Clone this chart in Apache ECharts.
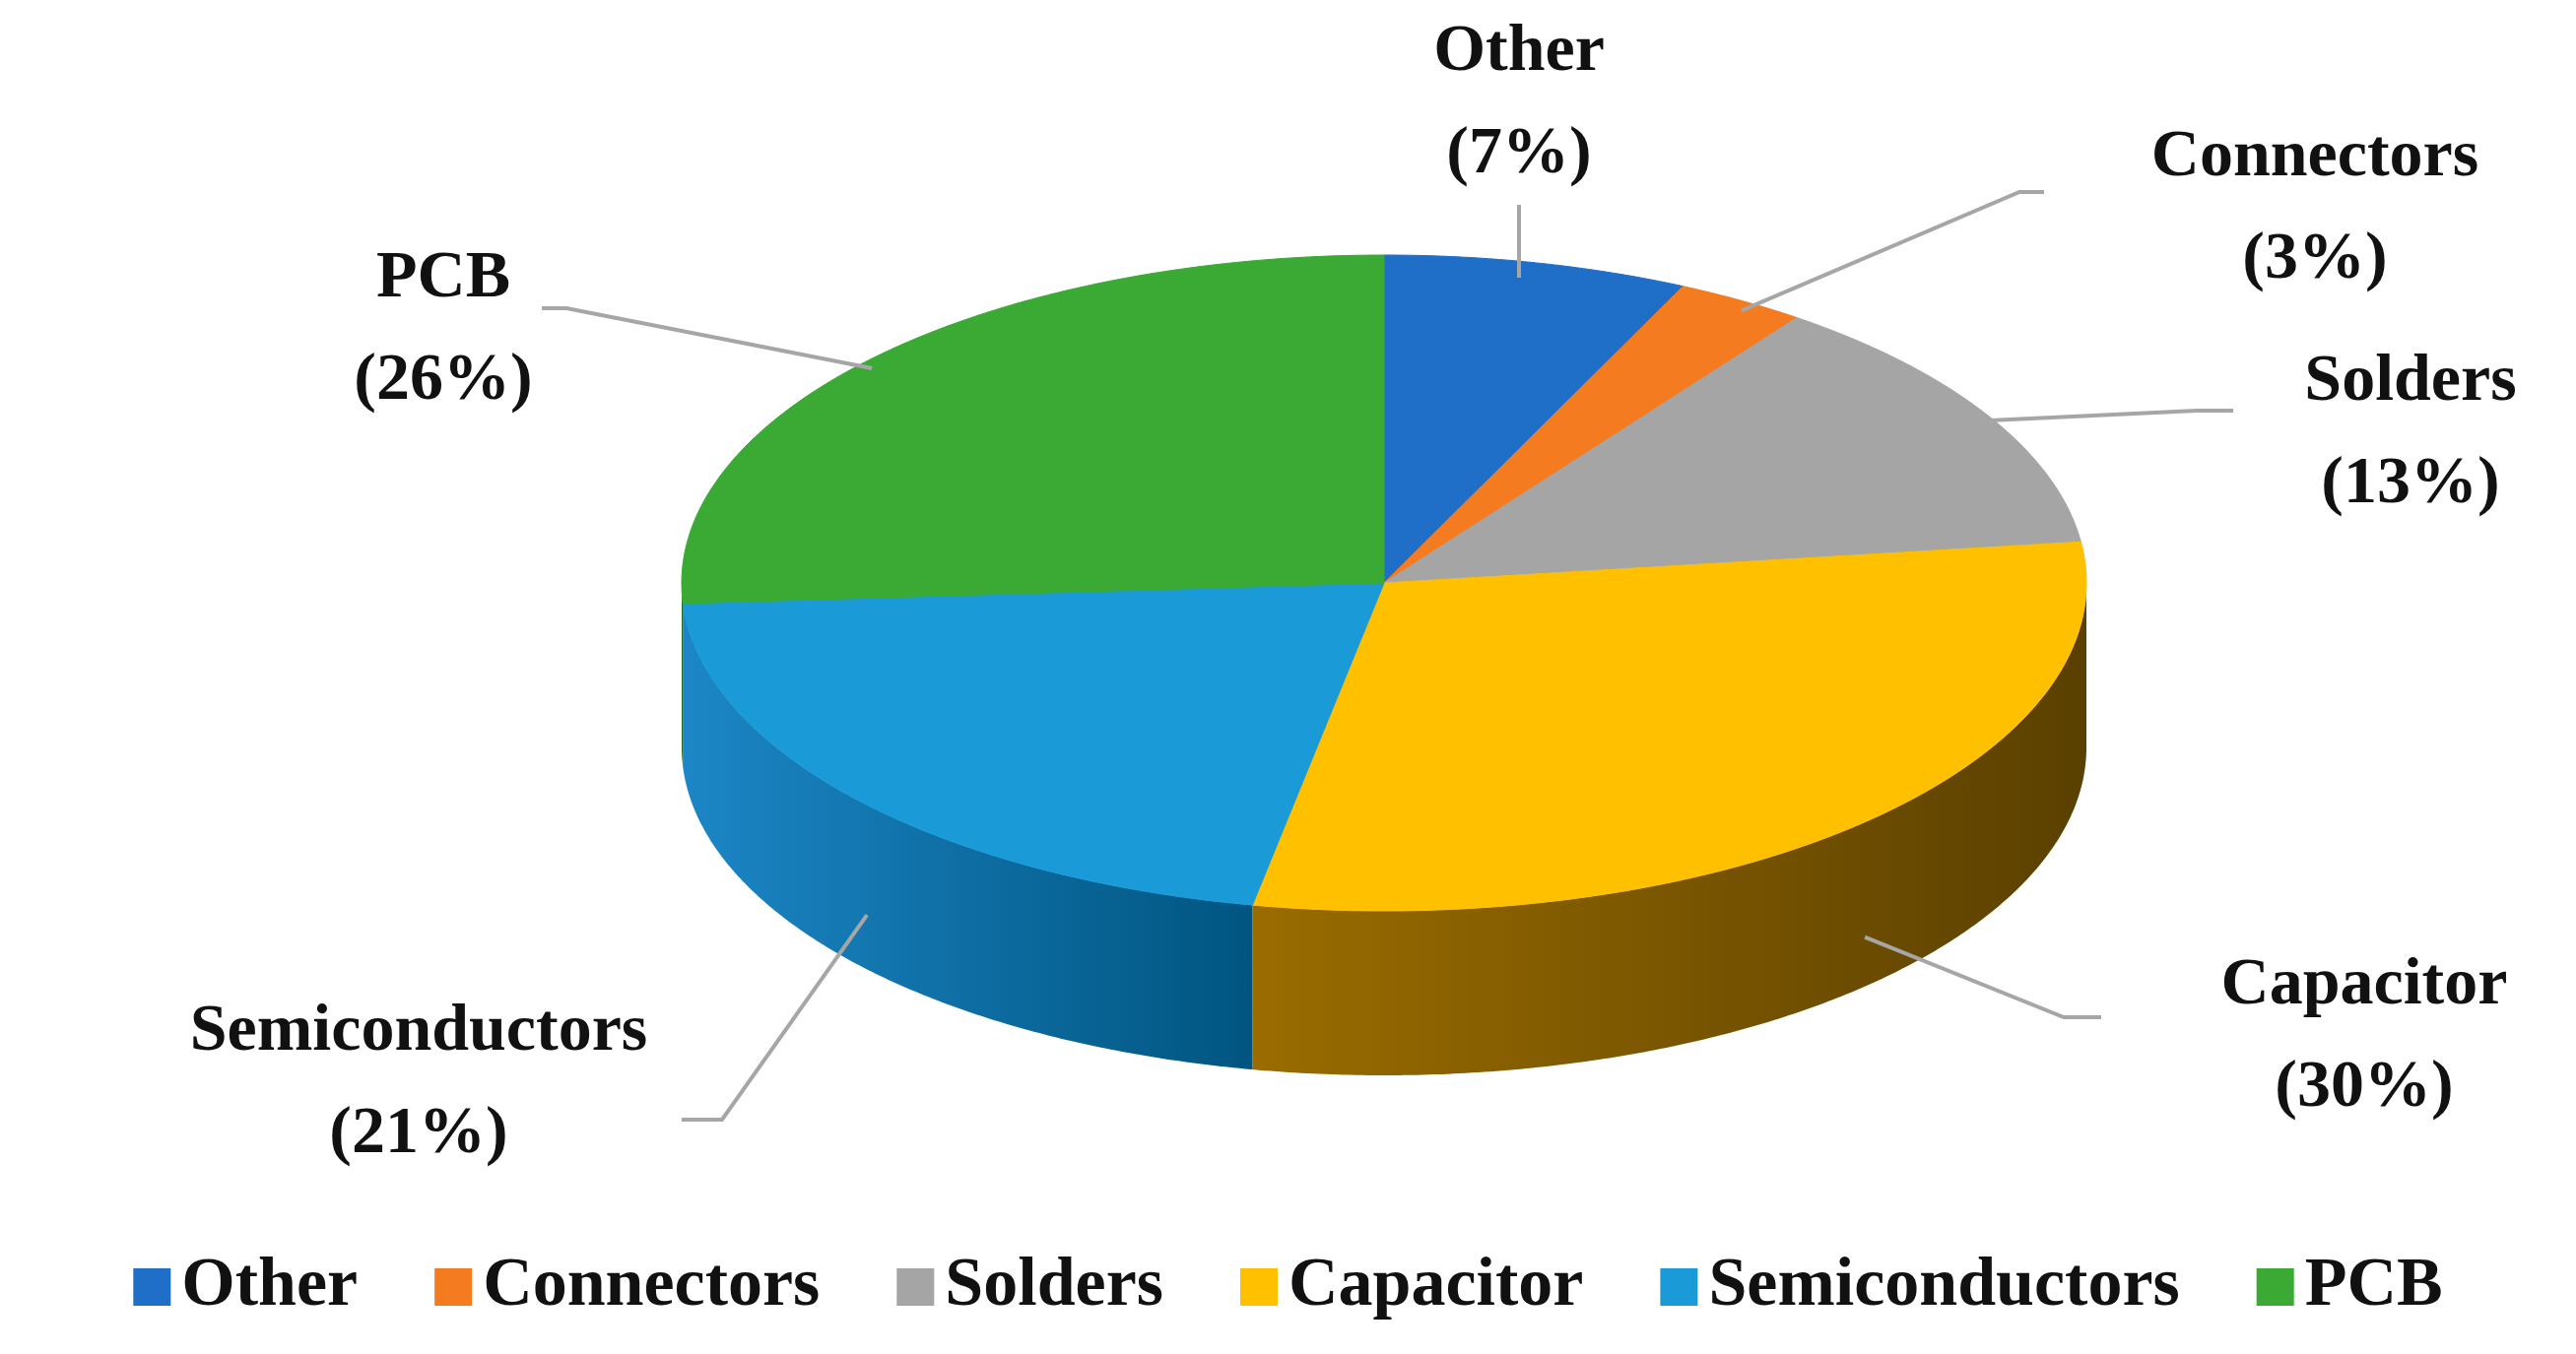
<!DOCTYPE html>
<html>
<head>
<meta charset="utf-8">
<script src="https://cdn.jsdelivr.net/npm/echarts@6/dist/echarts.min.js"></script>
<style>html,body{margin:0;background:#fff}#main{width:2615px;height:1375px}</style>
</head>
<body>
<div id="main"></div>
<script>
var names = ['Other', 'Connectors', 'Solders', 'Capacitor', 'Semiconductors', 'PCB'];
var values = [7, 3, 13, 30, 21, 26];
var topColors = ['#1f6fc8', '#f47b20', '#a5a5a5', '#ffc000', '#1a9ad6', '#3aaa35'];
var sideColors = [['#1a5aa0', '#0e3f75'], ['#b05510', '#7a3a08'], ['#7a7a7a', '#555'],
                  ['#9a6c00', '#5a4000'], ['#1c86c6', '#005580'], ['#2a7a26', '#1b5218']];
// label text centres, in pixels
var labelPos = [[1542, 105], [2350, 212], [2447, 440], [2400, 1053], [425, 1100], [450, 335]];

var chart = echarts.init(document.getElementById('main'));
var total = values.reduce(function (a, b) { return a + b; }, 0);
var cx = 1405, cy = 592, rx = 713, ry = 333, depth = 167;
var font = 'bold 68px "Liberation Serif", "DejaVu Serif", serif';

function pt(deg, dy) {
    var r = deg * Math.PI / 180;
    return [cx + rx * Math.sin(r), cy - ry * Math.cos(r) + (dy || 0)];
}

var starts = [];
var acc = 0;
values.forEach(function (v) { starts.push(acc); acc += v; });

var series = names.map(function (name, i) {
    return {
        name: name,
        type: 'custom',
        coordinateSystem: 'none',
        itemStyle: { color: topColors[i] },
        data: [[values[i], starts[i]]],
        renderItem: function (params, api) {
            var a0 = api.value(1) / total * 360;
            var a1 = (api.value(1) + api.value(0)) / total * 360;
            var children = [];
            // side wall (front half only: 90..270 deg)
            var s0 = Math.max(a0, 90), s1 = Math.min(a1, 270);
            if (s1 > s0) {
                var wall = [], d;
                for (d = s0; d <= s1; d += 0.5) wall.push(pt(d));
                wall.push(pt(s1));
                for (d = s1; d >= s0; d -= 0.5) wall.push(pt(d, depth));
                wall.push(pt(s0, depth));
                var p0 = pt(s0), p1 = pt(s1);
                children.push({
                    type: 'polygon', z2: 1,
                    shape: { points: wall },
                    style: { fill: new echarts.graphic.LinearGradient(Math.min(p0[0], p1[0]), 0, Math.max(p0[0], p1[0]), 0,
                        [{ offset: 0, color: sideColors[i][0] }, { offset: 1, color: sideColors[i][1] }], true) }
                });
            }
            var face = [[cx, cy]];
            for (var t = a0; t <= a1; t += 0.5) face.push(pt(t));
            face.push(pt(a1));
            children.push({ type: 'polygon', z2: 2, shape: { points: face },
                style: { fill: topColors[i], stroke: topColors[i], lineWidth: 1 } });
            // leader line from slice edge to label
            var mid = (a0 + a1) / 2;
            var anchor = pt(mid, (mid > 90 && mid < 270) ? depth * 0.7 : 0);
            var line;
            if (i === 0) line = [[1542, 208], [1542, anchor[1] + 15]];
            if (i === 1) line = [[2075, 195], [2050, 195], [anchor[0], anchor[1] + 10]];
            if (i === 2) line = [[2267, 417], [2230, 417], [anchor[0] - 10, anchor[1] + 5]];
            if (i === 3) line = [[2133, 1033], [2095, 1033], [anchor[0], anchor[1]]];
            if (i === 4) line = [[692, 1137], [733, 1137], [anchor[0] + 10, anchor[1]]];
            if (i === 5) line = [[550, 313], [575, 313], [anchor[0], anchor[1] + 10]];
            children.push({ type: 'polyline', z2: 3, shape: { points: line },
                style: { stroke: '#a6a6a6', lineWidth: 4, fill: null } });
            children.push({ type: 'text', z2: 4, x: labelPos[i][0], y: labelPos[i][1],
                style: { text: name + '\n(' + values[i] + '%)', font: font, fill: '#111',
                    align: 'center', verticalAlign: 'middle', lineHeight: 104 } });
            return { type: 'group', children: children };
        }
    };
});

chart.setOption({
    backgroundColor: '#fff',
    animation: false,
    legend: {
        bottom: 28, left: 'center', icon: 'rect', itemWidth: 38, itemHeight: 38, itemGap: 78,
        textStyle: { fontFamily: '"Liberation Serif", serif', fontWeight: 'bold', fontSize: 70, color: '#111', padding: [0, 0, 0, 6] },
        data: names
    },
    series: series
});
</script>
</body>
</html>
